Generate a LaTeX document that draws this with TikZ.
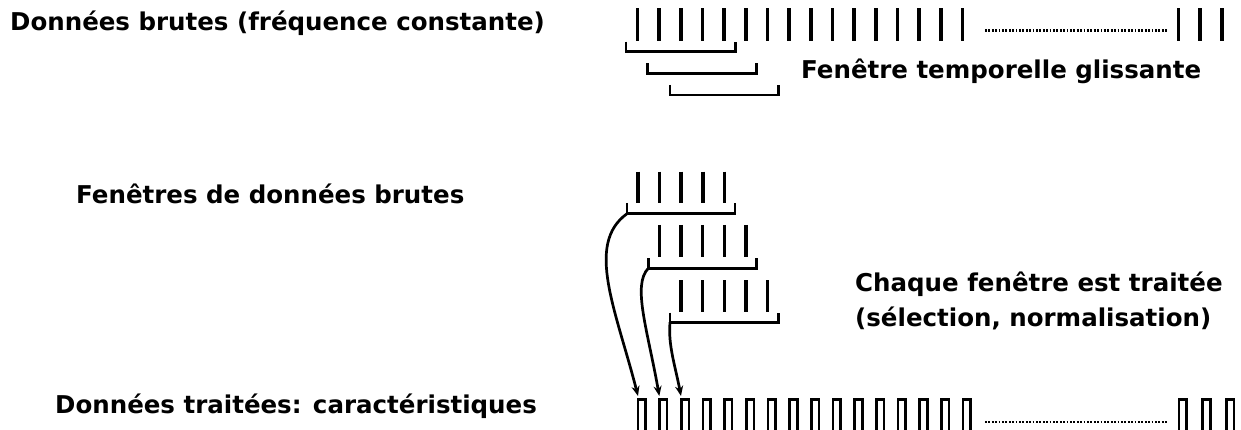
\documentclass[tikz,border=0pt]{standalone}
\usepackage{fontspec}
\setmainfont{DejaVu Sans}
\usetikzlibrary{arrows.meta}
\begin{document}
\begin{tikzpicture}[x=1pt,y=-1pt,
  tick/.style={line width=3.6pt},
  brk/.style={line width=2.8pt, line join=miter},
  cell/.style={draw, line width=2.6pt},
  dots/.style={line width=2.4pt, dash pattern=on 1.8pt off 1.6pt},
  lbl/.style={font=\fontsize{24.5}{29}\selectfont\bfseries, inner sep=0pt, anchor=base west},
  flow/.style={line width=2.7pt, -{Stealth[length=10pt,width=8pt]}}]
\useasboundingbox (0,0) rectangle (1241,430);
\clip (0,0) rectangle (1241,430);

% labels
\node[lbl] (t1) at (10,31) {Données brutes (fréquence constante)};
\node[lbl] (t2) at (801,78.3) {Fenêtre temporelle glissante};
\node[lbl] (t3) at (76,203.3) {Fenêtres de données brutes};
\node[lbl] (t4) at (855,291.7) {Chaque fenêtre est traitée};
\node[lbl] (t5) at (855,326.7) {(sélection, normalisation)};
\node[lbl] (t6) at (55,413.3) {Données traitées: caractéristiques};

% raw data stream
\foreach \i in {0,...,15}
  \draw[tick] ({637.5+21.67*\i},8.5) -- ++(0,32.5);
\foreach \x in {1178.3,1200,1221.7}
  \draw[tick] (\x,8.5) -- ++(0,32.5);
\draw[dots] (985,30.7) -- (1168,30.7);

% sliding windows (top)
\draw[brk] (626,41.7) |- (735.7,51.7) -- (735.7,41.7);
\draw[brk] (647.7,63.3) |- (756.7,73.3) -- (756.7,63.3);
\draw[brk] (670,85) |- (778.3,95) -- (778.3,85);

% windows of raw data
\foreach \i in {0,...,4} {
  \draw[tick] ({637.7+21.67*\i},171.7) -- ++(0,31.6);
  \draw[tick] ({659.3+21.67*\i},225) -- ++(0,31.6);
  \draw[tick] ({681+21.67*\i},280) -- ++(0,31.6);
}
\draw[brk] (627,203) |- (735,213.7) -- (735,203);
\draw[brk] (648.3,258.3) |- (756.7,268.3) -- (756.7,258.3);
\draw[brk] (670,312.7) |- (778.3,322.3) -- (778.3,312.7);
\coordinate (w1) at (627,213.7);
\coordinate (w2) at (648.3,268.3);
\coordinate (w3) at (670,322.3);

% processed features
\foreach \i in {0,...,15}
  \draw[cell] ({637.9+21.67*\i},399.6) rectangle ++(7.6,45);
\foreach \x in {1178.9,1202.7,1226.2}
  \draw[cell] (\x,399.6) rectangle ++(7.6,45);
\draw[dots] (985,421.7) -- (1168,421.7);
\coordinate (c1) at (638,396);
\coordinate (c2) at (659.3,396);
\coordinate (c3) at (681,396);

% processing arrows
\draw[flow] (w1) .. controls (585,244) and (616,310) .. (c1);
\draw[flow] (w2) .. controls (632,285) and (647.6,330) .. (c2);
\draw[flow] (w3) .. controls (668,345) and (675,365) .. (c3);
\end{tikzpicture}
\end{document}
